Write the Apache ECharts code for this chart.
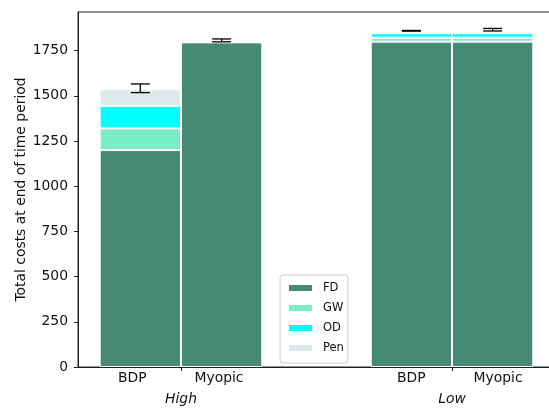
<!DOCTYPE html>
<html>
<head>
<meta charset="utf-8">
<script src="https://cdn.jsdelivr.net/npm/echarts@6/dist/echarts.min.js"></script>
<style>html,body{margin:0;padding:0;background:#fff}#c{width:549px;height:410px}</style>
</head>
<body>
<div id="c"></div>
<script>
// ---- data ----
const categories = ['BDP', 'Myopic', 'BDP', 'Myopic'];
const barX = [-0.15, 0.15, 0.85, 1.15];
const labelX = [-0.18, 0.14, 0.85, 1.17];
const groups = ['High', 'Low'];
const groupX = [0, 1];
const FD = [1200, 1796, 1800, 1800];
const GW = [120, 0, 22, 22];
const OD = [125, 0, 25, 25];
const Pen = [92, 0, 7, 7];
const errMid = [1542, 1807, 1860, 1866];
const errHalf = [24, 8, 2, 7];
const yTicks = [0, 250, 500, 750, 1000, 1250, 1500, 1750];

// ---- layout ----
const xMin = -0.38, xMax = 1.38;
const gridLeft = 78, gridRight = -6, gridTop = 12, gridBottom = 43;
const W = 549;
const pxPerUnit = (W - gridLeft - gridRight) / (xMax - xMin);
const barW = 0.3 * pxPerUnit;
const FONT = 'DejaVu Sans';
const FS = 13.9;

const colors = { FD: '#468a72', GW: '#7aedc6', OD: '#00ffff', Pen: '#deeaea' };

function stackSeries(name, vals) {
  return {
    name: name, type: 'bar', stack: 'total', xAxisIndex: 0,
    barWidth: barW,
    // value first so that the stacked dimension is y
    encode: { x: 1, y: 0 },
    data: vals.map((v, i) => [v, barX[i]]),
    itemStyle: { color: colors[name], borderColor: '#ffffff', borderWidth: 1 },
    emphasis: { disabled: true }
  };
}

const chart = echarts.init(document.getElementById('c'), null, { renderer: 'canvas' });
chart.setOption({
  animation: false,
  backgroundColor: '#ffffff',
  textStyle: { fontFamily: FONT },
  grid: { left: gridLeft, right: gridRight, top: gridTop, bottom: gridBottom, outerBoundsMode: 'none',
          show: true, borderColor: '#222', borderWidth: 1, backgroundColor: 'transparent' },
  legend: {
    orient: 'vertical', left: 280, top: 275,
    data: ['FD', 'GW', 'OD', 'Pen'],
    icon: 'rect', itemWidth: 25, itemHeight: 8, itemGap: 6,
    padding: [6, 4, 8, 7],
    backgroundColor: 'rgba(255,255,255,0.8)', borderColor: '#cccccc', borderWidth: 1, borderRadius: 3,
    textStyle: { fontFamily: FONT, fontSize: 11.5, color: '#111', lineHeight: 14, padding: [0, 0, 0, 5] },
    selectedMode: false
  },
  xAxis: [
    {
      type: 'value', min: xMin, max: xMax, position: 'bottom',
      axisLine: { show: true, onZero: false, lineStyle: { color: '#222', width: 1 } },
      axisTick: { show: true, length: 4, lineStyle: { color: '#222' }, customValues: groupX },
      axisLabel: {
        customValues: labelX, margin: 4, fontFamily: FONT, fontSize: FS, color: '#111',
        formatter: function (v) {
          let best = 0;
          for (let i = 0; i < labelX.length; i++) if (Math.abs(labelX[i] - v) < Math.abs(labelX[best] - v)) best = i;
          return categories[best];
        }
      },
      splitLine: { show: false }
    },
    {
      type: 'value', min: xMin, max: xMax, position: 'bottom', offset: 0,
      axisLine: { show: false, onZero: false }, axisTick: { show: false },
      axisLabel: {
        customValues: groupX, margin: 25, fontFamily: FONT, fontSize: FS, fontStyle: 'italic', color: '#111',
        formatter: function (v) { return groups[groupX.indexOf(Math.round(v))]; }
      },
      splitLine: { show: false }
    }
  ],
  yAxis: {
    type: 'value', min: 0, max: 1964,
    name: 'Total costs at end of time period', nameLocation: 'middle', nameRotate: 90, nameGap: 50,
    nameMoveOverlap: false,
    nameTextStyle: { fontFamily: FONT, fontSize: FS, color: '#111' },
    axisLine: { show: true, onZero: false, lineStyle: { color: '#222', width: 1 } },
    axisTick: { show: true, length: 4, lineStyle: { color: '#222' }, customValues: yTicks },
    axisLabel: { customValues: yTicks, margin: 10, fontFamily: FONT, fontSize: FS, color: '#111',
                 formatter: function (v) { return String(v); } },
    splitLine: { show: false }
  },
  series: [
    stackSeries('FD', FD),
    stackSeries('GW', GW),
    stackSeries('OD', OD),
    stackSeries('Pen', Pen),
    {
      type: 'custom', name: 'err', xAxisIndex: 0, z: 10,
      data: barX.map((x, i) => [x, errMid[i] - errHalf[i], errMid[i] + errHalf[i]]),
      renderItem: function (params, api) {
        const lo = api.coord([api.value(0), api.value(1)]);
        const hi = api.coord([api.value(0), api.value(2)]);
        const cw = 9.5;
        const st = { stroke: '#000', lineWidth: 1.3 };
        return {
          type: 'group',
          children: [
            { type: 'line', shape: { x1: lo[0], y1: lo[1], x2: hi[0], y2: hi[1] }, style: st },
            { type: 'line', shape: { x1: lo[0] - cw, y1: lo[1], x2: lo[0] + cw, y2: lo[1] }, style: st },
            { type: 'line', shape: { x1: hi[0] - cw, y1: hi[1], x2: hi[0] + cw, y2: hi[1] }, style: st }
          ]
        };
      },
      silent: true
    }
  ]
});
</script>
</body>
</html>
